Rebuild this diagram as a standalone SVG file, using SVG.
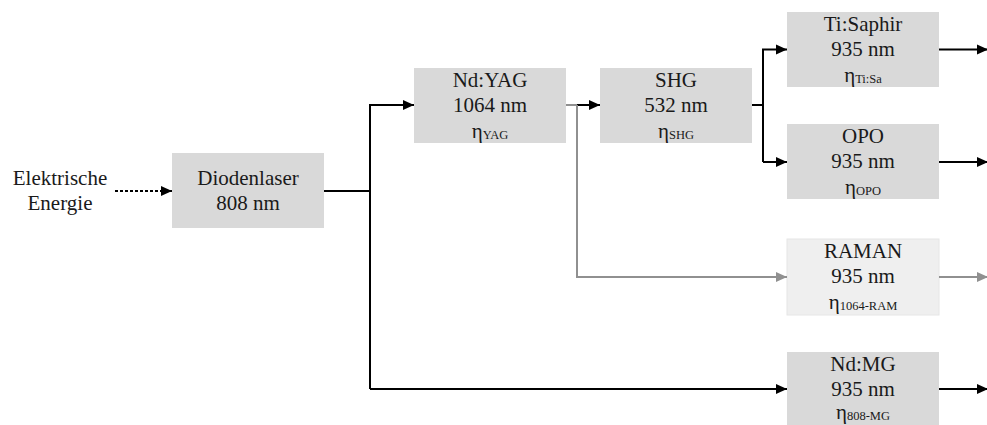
<svg xmlns="http://www.w3.org/2000/svg" width="987" height="425" viewBox="0 0 987 425" font-family="'Liberation Serif', 'Times New Roman', serif">
<style>
.box{fill:#d9d9d9}
.box2{fill:#efefef;stroke:#e6e6e6;stroke-width:1}
text{font-family:'Liberation Serif','Times New Roman',serif;font-size:21px;fill:#1a1a1a;text-anchor:middle}
.sub{font-size:12.5px}
.k{fill:none;stroke:#000;stroke-width:2}
.g{fill:none;stroke:#909090;stroke-width:2}
</style>
<defs>
<marker id="ak" markerUnits="userSpaceOnUse" markerWidth="12" markerHeight="12" viewBox="0 0 12 12" refX="11" refY="6" orient="auto">
<path d="M0,1 L11,6 L0,11 Z" fill="#000"/>
</marker>
<marker id="ag" markerUnits="userSpaceOnUse" markerWidth="12" markerHeight="12" viewBox="0 0 12 12" refX="11" refY="6" orient="auto">
<path d="M0,1 L11,6 L0,11 Z" fill="#909090"/>
</marker>
</defs>
<g id="source">
<text x="60" y="185">Elektrische</text>
<text x="60" y="210">Energie</text>
</g>
<g id="diodenlaser">
<rect class="box" x="172" y="153" width="152" height="75"/>
<text x="248" y="185">Diodenlaser</text>
<text x="248" y="210">808 nm</text>
</g>
<g id="ndyag">
<rect class="box" x="414" y="68" width="152" height="75"/>
<text x="490" y="87">Nd:YAG</text>
<text x="490" y="112">1064 nm</text>
<text x="490" y="138">η<tspan class="sub" dy="1">YAG</tspan></text>
</g>
<g id="shg">
<rect class="box" x="600" y="68" width="152" height="75"/>
<text x="676" y="87">SHG</text>
<text x="676" y="112">532 nm</text>
<text x="676" y="138">η<tspan class="sub" dy="1">SHG</tspan></text>
</g>
<g id="tisaphir">
<rect class="box" x="787" y="12" width="152" height="75"/>
<text x="863" y="31">Ti:Saphir</text>
<text x="863" y="56">935 nm</text>
<text x="863" y="82">η<tspan class="sub" dy="1">Ti:Sa</tspan></text>
</g>
<g id="opo">
<rect class="box" x="787" y="124" width="152" height="75"/>
<text x="863" y="143">OPO</text>
<text x="863" y="168">935 nm</text>
<text x="863" y="194">η<tspan class="sub" dy="1">OPO</tspan></text>
</g>
<g id="raman">
<rect class="box2" x="787" y="239" width="152" height="76"/>
<text x="863" y="258">RAMAN</text>
<text x="863" y="283">935 nm</text>
<text x="863" y="309">η<tspan class="sub" dy="1">1064-RAM</tspan></text>
</g>
<g id="ndmg">
<rect class="box" x="787" y="352" width="152" height="80"/>
<text x="863" y="371">Nd:MG</text>
<text x="863" y="396">935 nm</text>
<text x="863" y="419">η<tspan class="sub" dy="1">808-MG</tspan></text>
</g>
<g id="connectors">
<path d="M115,191 H172" fill="none" stroke="#000" stroke-width="2" stroke-dasharray="3,2" marker-end="url(#ak)"/>
<path class="k" d="M324,191 H370"/>
<path class="k" d="M370,389 V105 H414" marker-end="url(#ak)"/>
<path class="k" d="M370,389 H787" marker-end="url(#ak)"/>
<path class="g" d="M566,105 H577"/>
<path class="k" d="M577,105 H600" marker-end="url(#ak)"/>
<path class="g" d="M577,105 V277 H787" marker-end="url(#ag)"/>
<path class="k" d="M752,105 H763"/>
<path class="k" d="M763,162 V49.5 H787" marker-end="url(#ak)"/>
<path class="k" d="M763,162 H787" marker-end="url(#ak)"/>
<path class="k" d="M939,49.5 H988" marker-end="url(#ak)"/>
<path class="k" d="M939,162 H988" marker-end="url(#ak)"/>
<path class="g" d="M939,277 H988" marker-end="url(#ag)"/>
<path class="k" d="M939,389 H988" marker-end="url(#ak)"/>
</g>
</svg>
